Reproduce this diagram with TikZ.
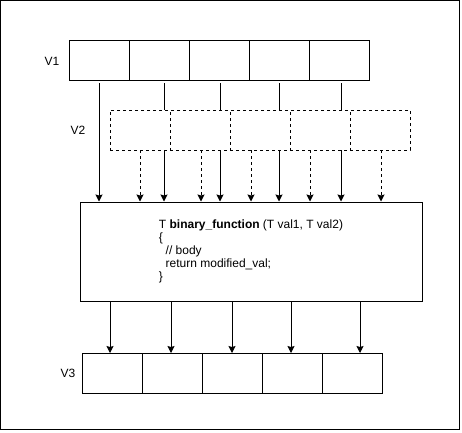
\documentclass[tikz,border=0pt]{standalone}
\usepackage{fontspec}
\setmainfont{Liberation Sans}
\usetikzlibrary{arrows.meta}
\begin{document}
\begin{tikzpicture}[x=1pt, y=-1pt, line width=1pt, >={Stealth[length=7pt, width=7pt, inset=1pt]}]
      \tikzstyle{every node} = [font=\fontsize{12}{13}\selectfont]
      \tikzstyle{cell} = [draw, fill=white, minimum width=60pt, minimum height=40pt, inner sep=0pt, outer sep=0pt]
      \useasboundingbox (0,0) rectangle (462,432);
      \draw (0.5,0.5) rectangle (459.5,429.5);

        \foreach \i in {0,...,4}{
          \node[cell] (va\i) at (99+60*\i,60) {};
      }
        \foreach \i in {0,...,4}{
          \node[cell] (vc\i) at (112+60*\i,373) {};
      }
      \node[draw, minimum width=342pt, minimum height=99pt, align=left, inner sep=0pt] (fn) at (251,251.5)
      {T \textbf{binary\_function} (T val1, T val2)\\
       \{\\
       \hspace*{6.7pt}// body\\
       \hspace*{6.7pt}return modified\_val;\\
       \}};

      \node(la) at (52,61) {V1};
      \node(lb) at (78,130) {V2};
      \node(lc) at (68,373) {V3};

      \path[->]
      ([yshift=-3pt]va0.south) edge (va0.south |- fn.north);
      \foreach \c/\dx in {1/5,2/1,3/0,4/2}{
          \path[->]
          ([yshift=-3pt, xshift=\dx pt]va\c.south) edge ([xshift=\dx pt]va\c.south |- fn.north);
      }
      \foreach \c/\dx in {0/-2,1/-1,2/0,3/-1,4/8}{
          \path[->]
          ([xshift=\dx pt]vc\c.north |- fn.south) edge ([xshift=\dx pt]vc\c.north);
      }

        \foreach \i in {0,...,4}{
          \node[cell, dash pattern=on 3pt off 3pt] (vb\i) at (140+60*\i,130) {};
      }
      \foreach \c/\dx in {0/0,1/1,2/-9,3/-10,4/1}{
          \path[->, dash pattern=on 3pt off 3pt]
          ([xshift=\dx pt]vb\c.south) edge ([xshift=\dx pt]vb\c.south |- fn.north);
      }
    \end{tikzpicture}
\end{document}
